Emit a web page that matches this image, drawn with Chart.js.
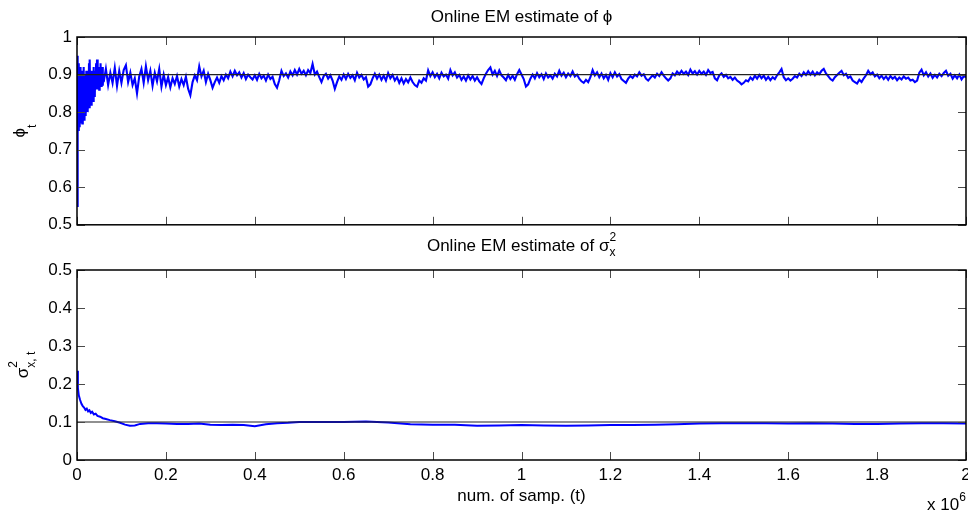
<!DOCTYPE html>
<html>
<head>
<meta charset="utf-8">
<script src="https://cdn.jsdelivr.net/npm/chart.js@4.4.1/dist/chart.umd.min.js"></script>
<style>
    html, body { margin: 0; padding: 0; background: #fff; }
    #wrap { position: relative; width: 968px; height: 513px; overflow: hidden; }
    canvas { position: absolute; left: 0; }
    #phiChart { top: 0; }
    #sigChart { top: 225px; }
</style>
</head>
<body>
<div id="wrap">
    <canvas id="phiChart" width="968" height="240"></canvas>
    <canvas id="sigChart" width="968" height="288"></canvas>
</div>
<script>
// samples are in units of 10^6
const xTickValues = [0, 0.2, 0.4, 0.6, 0.8, 1, 1.2, 1.4, 1.6, 1.8, 2];
const xTickLabels = ['0', '0.2', '0.4', '0.6', '0.8', '1', '1.2', '1.4', '1.6', '1.8', '2'];
const phiTickValues = [0.5, 0.6, 0.7, 0.8, 0.9, 1];
const phiTickLabels = ['0.5', '0.6', '0.7', '0.8', '0.9', '1'];
const sigTickValues = [0, 0.1, 0.2, 0.3, 0.4, 0.5];
const sigTickLabels = ['0', '0.1', '0.2', '0.3', '0.4', '0.5'];

// true parameter values
const phiTrue = 0.9;
const sigTrue = 0.1;

// phi estimate, burn-in: t = 0 .. 0.06, every 0.001
const phiEarlyStep = 0.001;
const phiEarly = [
    .55, .95, .74, .93, .75, .90, .76, .92, .77, .89,
    .78, .91, .77, .88, .80, .92, .78, .90, .81, .89,
    .79, .91, .82, .88, .80, .90, .83, .93, .81, .94,
    .84, .89, .82, .91, .85, .90, .83, .92, .86, .89,
    .84, .91, .86, .93, .87, .94, .86, .91, .88, .92,
    .86, .90, .88, .93, .87, .91, .88, .92, .87, .90,
    .88
];

// phi estimate from t = 0.065 on, every 0.005
const phiLateStart = 0.065;
const phiLateStep = 0.005;
const phiLate = [
    .915, .872, .905, .878, .918, .870, .910,
    // 0.1
    .878, .912, .925, .880, .905, .872, .890, .850, .895, .915,
    .878, .922, .885, .910, .870, .905, .882, .915, .868, .900,
    // 0.2
    .872, .893, .866, .890, .875, .896, .868, .888, .872, .894,
    .862, .845, .880, .898, .885, .922, .895, .910, .880, .902,
    // 0.3
    .885, .865, .880, .892, .878, .896, .885, .900, .890, .908,
    .895, .910, .898, .906, .892, .904, .888, .900, .893, .887,
    // 0.4
    .898, .886, .902, .890, .897, .884, .900, .888, .894, .875,
    .865, .885, .910, .896, .903, .892, .908, .898, .912, .900,
    // 0.5
    .915, .902, .910, .898, .912, .904, .928, .900, .908, .893,
    .880, .896, .902, .889, .898, .884, .862, .880, .895, .886,
    // 0.6
    .900, .888, .902, .891, .898, .885, .905, .892, .899, .887,
    .893, .868, .874, .890, .902, .889, .900, .886, .897, .884,
    // 0.7
    .904, .890, .899, .884, .893, .878, .890, .876, .888, .879,
    .892, .880, .872, .868, .884, .878, .890, .884, .911, .896,
    // 0.8
    .906, .893, .902, .890, .905, .895, .900, .889, .912, .898,
    .906, .892, .899, .886, .895, .884, .898, .887, .896, .884,
    // 0.9
    .893, .882, .875, .890, .902, .912, .919, .900, .910, .896,
    .911, .898, .892, .885, .899, .888, .897, .886, .901, .912,
    // 1.0
    .900, .888, .868, .874, .889, .900, .890, .904, .893, .901,
    .888, .903, .892, .898, .889, .902, .895, .910, .897, .905,
    // 1.1
    .893, .903, .896, .908, .895, .900, .889, .882, .878, .886,
    .880, .893, .912, .898, .906, .893, .903, .890, .899, .886,
    // 1.2
    .904, .893, .906, .895, .901, .888, .883, .878, .889, .896,
    .891, .900, .895, .906, .897, .901, .889, .884, .891, .898,
    // 1.3
    .892, .902, .896, .906, .897, .890, .884, .890, .903, .898,
    .908, .901, .910, .902, .908, .899, .913, .903, .909, .900,
    // 1.4
    .910, .902, .908, .899, .912, .904, .907, .890, .885, .898,
    .903, .894, .899, .890, .894, .886, .892, .884, .880, .874,
    // 1.5
    .878, .885, .882, .892, .886, .897, .889, .899, .890, .897,
    .886, .894, .885, .893, .888, .898, .906, .915, .893, .885,
    // 1.6
    .890, .884, .889, .896, .892, .902, .896, .906, .899, .909,
    .900, .908, .898, .906, .901, .910, .915, .903, .896, .888,
    // 1.7
    .884, .893, .899, .905, .910, .898, .902, .891, .895, .884,
    .880, .876, .886, .880, .890, .898, .910, .901, .906, .895,
    // 1.8
    .900, .890, .897, .888, .895, .886, .896, .889, .894, .885,
    .892, .887, .895, .889, .892, .884, .886, .880, .884, .905,
    // 1.9
    .913, .898, .906, .895, .903, .891, .899, .892, .902, .896,
    .904, .910, .897, .902, .889, .898, .890, .900, .887, .896,
    // 2.0
    .893
];

// sigma_x^2 estimate
const sigT = [0, .002, .004, .007, .010, .013, .016, .019, .022, .025, .028, .031, .034, .038,
    .042, .046, .052, .058, .065, .074, .085, .097, .108, .119, .130, .142, .16, .18, .2,
    .225, .25, .275, .3, .325, .35, .375, .4, .425, .45, .475, .5, .55, .6, .65, .7, .75,
    .8, .85, .9, .95, 1.0, 1.05, 1.1, 1.15, 1.2, 1.25, 1.3, 1.35, 1.4, 1.45, 1.5, 1.55,
    1.6, 1.65, 1.7, 1.75, 1.8, 1.85, 1.9, 1.95, 2.0];
const sigVals = [.235, .19, .17, .158, .148, .142, .138, .132, .135, .128, .131, .124, .127, .12,
    .122, .116, .114, .11, .108, .105, .102, .098, .093, .090, .091, .095, .097, .097, .096,
    .095, .095, .096, .093, .092, .093, .092, .089, .094, .097, .098, .100, .100, .100, .101,
    .099, .094, .093, .093, .090, .091, .092, .091, .090, .091, .092, .092, .093, .094, .096,
    .097, .097, .097, .096, .097, .096, .095, .095, .096, .097, .097, .096];

const FONT = "'Liberation Sans', Arial, Helvetica, sans-serif";
const BLUE = '#0000ff';

const phiPoints = phiEarly.map((v, i) => ({ x: +(i * phiEarlyStep).toFixed(3), y: v }))
    .concat(phiLate.map((v, i) => ({ x: +(phiLateStart + i * phiLateStep).toFixed(3), y: v })));
const sigPoints = sigT.map((t, i) => ({ x: t, y: sigVals[i] }));

// text with sub/superscripts: runs with stack:true start where the previous run started
function layoutRuns(ctx, runs) {
    let end = 0, prevStart = 0;
    const placed = runs.map(r => {
        ctx.font = `${r.size}px ${FONT}`;
        const w = ctx.measureText(r.text).width;
        const start = r.stack ? prevStart : end;
        prevStart = start;
        end = Math.max(end, start + w);
        return { ...r, start };
    });
    return { placed, width: end };
}

function drawRuns(ctx, runs, x, y, align) {
    const { placed, width } = layoutRuns(ctx, runs);
    const x0 = align === 'center' ? x - width / 2 : x;
    ctx.fillStyle = '#000';
    ctx.textAlign = 'left';
    ctx.textBaseline = 'alphabetic';
    placed.forEach(r => {
        ctx.font = `${r.size}px ${FONT}`;
        ctx.fillText(r.text, x0 + r.start, y + (r.dy || 0));
    });
}

// matlab-style box with inward ticks on all four sides
const framePlugin = {
    id: 'frame',
    afterDatasetsDraw(chart) {
        const { ctx, chartArea: a, scales } = chart;
        const L = 8;
        ctx.save();
        ctx.strokeStyle = '#4a4a4a';
        ctx.lineWidth = 1;
        ctx.beginPath();
        scales.x.ticks.forEach(t => {
            const px = Math.round(scales.x.getPixelForValue(t.value)) + 0.5;
            ctx.moveTo(px, a.bottom); ctx.lineTo(px, a.bottom - L);
            ctx.moveTo(px, a.top); ctx.lineTo(px, a.top + L);
        });
        scales.y.ticks.forEach(t => {
            const py = Math.round(scales.y.getPixelForValue(t.value)) + 0.5;
            ctx.moveTo(a.left, py); ctx.lineTo(a.left + L, py);
            ctx.moveTo(a.right, py); ctx.lineTo(a.right - L, py);
        });
        ctx.stroke();
        ctx.strokeStyle = '#000';
        ctx.lineWidth = 1.5;
        ctx.strokeRect(a.left, a.top, a.right - a.left, a.bottom - a.top);
        ctx.restore();
    }
};

const textPlugin = {
    id: 'texts',
    afterDraw(chart, args, opts) {
        const ctx = chart.ctx;
        ctx.save();
        ctx.translate(0, -opts.offsetY);
        opts.draw(ctx);
        ctx.restore();
    }
};

function makeOptions(yMin, yMax, yTickValues, yTickLabels, padTop, xHeight, showX, texts) {
    return {
        responsive: false,
        animation: false,
        devicePixelRatio: 1,
        layout: { padding: { top: padTop, right: 2, bottom: showX ? 0 : 13, left: 0 } },
        plugins: { legend: { display: false }, tooltip: { enabled: false }, title: { display: false }, texts },
        elements: { point: { radius: 0 }, line: { tension: 0 } },
        scales: {
            x: {
                type: 'linear', min: 0, max: 2,
                grid: { display: false, drawTicks: false },
                border: { display: false },
                afterBuildTicks: s => { s.ticks = xTickValues.map(v => ({ value: v })); },
                ticks: {
                    display: showX, autoSkip: false, maxRotation: 0, padding: 5,
                    color: '#000', font: { family: FONT, size: 17 },
                    callback: (v, i) => xTickLabels[i]
                },
                afterFit: s => { s.height = xHeight; s.paddingLeft = 0; s.paddingRight = 0; }
            },
            y: {
                min: yMin, max: yMax,
                grid: { display: false, drawTicks: false },
                border: { display: false },
                afterBuildTicks: s => { s.ticks = yTickValues.map(v => ({ value: v })); },
                ticks: {
                    padding: 5, color: '#000', font: { family: FONT, size: 17 },
                    callback: (v, i) => yTickLabels[i]
                },
                afterFit: s => { s.width = 77; }
            }
        }
    };
}

const truthStyle = { borderColor: '#222', borderWidth: 1.2, pointRadius: 0 };

new Chart(document.getElementById('phiChart'), {
    type: 'line',
    data: {
        datasets: [
            { ...truthStyle, data: [{ x: 0, y: phiTrue }, { x: 2, y: phiTrue }] },
            { data: phiPoints, borderColor: BLUE, borderWidth: 2.1, pointRadius: 0 }
        ]
    },
    options: makeOptions(0.5, 1, phiTickValues, phiTickLabels, 37, 0, false, {
        offsetY: 0,
        draw: ctx => {
            drawRuns(ctx, [{ text: 'Online EM estimate of ', size: 17 }, { text: 'ϕ', size: 17 }], 521.5, 22, 'center');
            ctx.save();
            ctx.translate(25, 131);
            ctx.rotate(-Math.PI / 2);
            drawRuns(ctx, [{ text: 'ϕ', size: 17 }, { text: 't', size: 12, dy: 11 }], 0, 0, 'center');
            ctx.restore();
        }
    }),
    plugins: [framePlugin, textPlugin]
});

new Chart(document.getElementById('sigChart'), {
    type: 'line',
    data: {
        datasets: [
            { ...truthStyle, data: [{ x: 0, y: sigTrue }, { x: 2, y: sigTrue }] },
            { data: sigPoints, borderColor: BLUE, borderWidth: 2, pointRadius: 0 }
        ]
    },
    options: makeOptions(0, 0.5, sigTickValues, sigTickLabels, 45, 53, true, {
        offsetY: 225,
        draw: ctx => {
            drawRuns(ctx, [
                { text: 'Online EM estimate of σ', size: 17 },
                { text: '2', size: 12, dy: -10 },
                { text: 'x', size: 12, dy: 5, stack: true }
            ], 521.5, 251, 'center');
            drawRuns(ctx, [{ text: 'num. of samp. (t)', size: 17 }], 521.5, 501, 'center');
            drawRuns(ctx, [{ text: 'x 10', size: 17 }, { text: '6', size: 12, dy: -9 }], 927, 510, 'left');
            ctx.save();
            ctx.translate(28, 365);
            ctx.rotate(-Math.PI / 2);
            drawRuns(ctx, [
                { text: 'σ', size: 17 },
                { text: '2', size: 12, dy: -11 },
                { text: 'x, t', size: 12, dy: 7, stack: true }
            ], 0, 0, 'center');
            ctx.restore();
        }
    }),
    plugins: [framePlugin, textPlugin]
});
</script>
</body>
</html>
